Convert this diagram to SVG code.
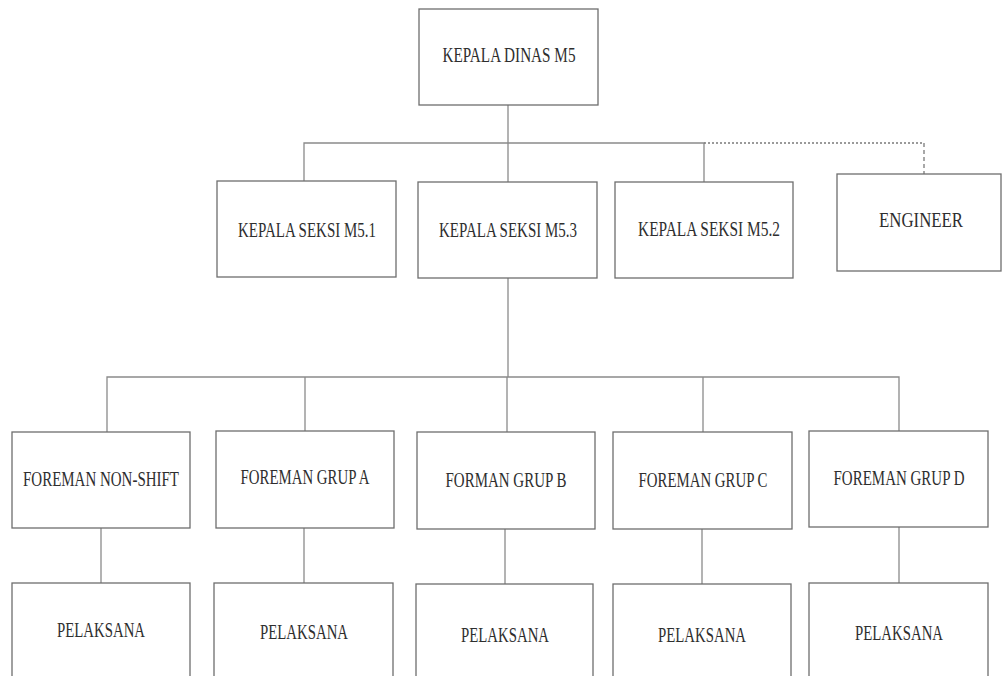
<svg xmlns="http://www.w3.org/2000/svg" width="1002" height="676" viewBox="0 0 1002 676">
  <style>
    .box { fill: #ffffff; stroke: #6e6e6e; stroke-width: 1.3; }
    .lbl { font-family: "Liberation Serif", "Times New Roman", serif; font-size: 15px; fill: #2e2e2e; text-anchor: middle; }
    .link { fill: none; stroke: #8a8a8a; stroke-width: 1.3; }
    .dot { fill: none; stroke: #7a7a7a; stroke-width: 1.3; stroke-dasharray: 2 2; }
  </style>
  <rect width="1002" height="676" fill="#ffffff"/>

  <!-- connectors -->
  <g id="connectors">
    <path class="link" d="M508 105 V143"/>
    <path class="link" d="M304 181 V143 H704 V182"/>
    <path class="link" d="M508 143 V182"/>
    <path class="dot" d="M704 143 H924"/>
    <path class="dot" style="stroke-dasharray:4 3" d="M924 143 V174"/>
    <path class="link" d="M508 278 V377"/>
    <path class="link" d="M107 432 V377 H899 V431"/>
    <path class="link" d="M305 377 V431"/>
    <path class="link" d="M507 377 V432"/>
    <path class="link" d="M703 377 V432"/>
    <path class="link" d="M101 528 V583"/>
    <path class="link" d="M304 528 V583"/>
    <path class="link" d="M505 529 V584"/>
    <path class="link" d="M702 529 V584"/>
    <path class="link" d="M899 527 V583"/>
  </g>

  <!-- labels are set narrow and tall: 15px type stretched 1.4x vertically -->

  <!-- top level -->
  <g id="kepala-dinas">
    <rect class="box" x="419" y="9" width="179" height="96"/>
    <text class="lbl" transform="translate(509 62) scale(1 1.4)" textLength="133" lengthAdjust="spacingAndGlyphs">KEPALA DINAS M5</text>
  </g>

  <!-- section heads -->
  <g id="seksi-m51">
    <rect class="box" x="217" y="181" width="179" height="96"/>
    <text class="lbl" transform="translate(307 237) scale(1 1.4)" textLength="138" lengthAdjust="spacingAndGlyphs">KEPALA SEKSI M5.1</text>
  </g>
  <g id="seksi-m53">
    <rect class="box" x="418" y="182" width="179" height="96"/>
    <text class="lbl" transform="translate(508 237) scale(1 1.4)" textLength="138" lengthAdjust="spacingAndGlyphs">KEPALA SEKSI M5.3</text>
  </g>
  <g id="seksi-m52">
    <rect class="box" x="615" y="182" width="178" height="96"/>
    <text class="lbl" transform="translate(709 236) scale(1 1.4)" textLength="142" lengthAdjust="spacingAndGlyphs">KEPALA SEKSI M5.2</text>
  </g>
  <g id="engineer">
    <rect class="box" x="837" y="174" width="164" height="97"/>
    <text class="lbl" transform="translate(921 227) scale(1 1.4)" textLength="84" lengthAdjust="spacingAndGlyphs">ENGINEER</text>
  </g>

  <!-- foremen -->
  <g id="foreman-non-shift">
    <rect class="box" x="12" y="432" width="178" height="96"/>
    <text class="lbl" transform="translate(101 486) scale(1 1.4)" textLength="156" lengthAdjust="spacingAndGlyphs">FOREMAN NON-SHIFT</text>
  </g>
  <g id="foreman-grup-a">
    <rect class="box" x="216" y="431" width="178" height="97"/>
    <text class="lbl" transform="translate(305 484) scale(1 1.4)" textLength="129" lengthAdjust="spacingAndGlyphs">FOREMAN GRUP A</text>
  </g>
  <g id="forman-grup-b">
    <rect class="box" x="417" y="432" width="178" height="97"/>
    <text class="lbl" transform="translate(506 487) scale(1 1.4)" textLength="121" lengthAdjust="spacingAndGlyphs">FORMAN GRUP B</text>
  </g>
  <g id="foreman-grup-c">
    <rect class="box" x="613" y="432" width="179" height="97"/>
    <text class="lbl" transform="translate(703 487) scale(1 1.4)" textLength="129" lengthAdjust="spacingAndGlyphs">FOREMAN GRUP C</text>
  </g>
  <g id="foreman-grup-d">
    <rect class="box" x="809" y="431" width="179" height="96"/>
    <text class="lbl" transform="translate(899 485) scale(1 1.4)" textLength="131" lengthAdjust="spacingAndGlyphs">FOREMAN GRUP D</text>
  </g>

  <!-- staff -->
  <g id="pelaksana-non-shift">
    <rect class="box" x="12" y="583" width="178" height="110"/>
    <text class="lbl" transform="translate(101 637) scale(1 1.4)" textLength="88" lengthAdjust="spacingAndGlyphs">PELAKSANA</text>
  </g>
  <g id="pelaksana-a">
    <rect class="box" x="214" y="583" width="179" height="110"/>
    <text class="lbl" transform="translate(304 639) scale(1 1.4)" textLength="88" lengthAdjust="spacingAndGlyphs">PELAKSANA</text>
  </g>
  <g id="pelaksana-b">
    <rect class="box" x="416" y="584" width="177" height="110"/>
    <text class="lbl" transform="translate(505 642) scale(1 1.4)" textLength="88" lengthAdjust="spacingAndGlyphs">PELAKSANA</text>
  </g>
  <g id="pelaksana-c">
    <rect class="box" x="613" y="584" width="178" height="110"/>
    <text class="lbl" transform="translate(702 642) scale(1 1.4)" textLength="88" lengthAdjust="spacingAndGlyphs">PELAKSANA</text>
  </g>
  <g id="pelaksana-d">
    <rect class="box" x="809" y="583" width="179" height="110"/>
    <text class="lbl" transform="translate(899 640) scale(1 1.4)" textLength="88" lengthAdjust="spacingAndGlyphs">PELAKSANA</text>
  </g>
</svg>
